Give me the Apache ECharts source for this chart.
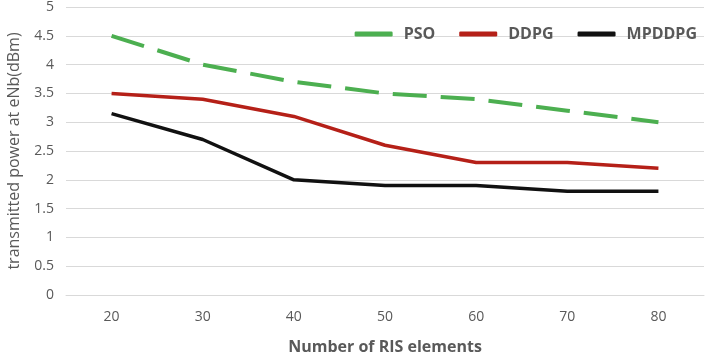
<!DOCTYPE html>
<html>
<head>
<meta charset="utf-8">
<script src="https://cdn.jsdelivr.net/npm/echarts@6/dist/echarts.min.js"></script>
<style>
  html, body { margin: 0; padding: 0; background: #fff; }
  #chart { width: 708px; height: 357px; }
</style>
</head>
<body>
<div id="chart"></div>
<script>
// RIS element counts on the x axis
const categories = ["20", "30", "40", "50", "60", "70", "80"];
// transmitted power per algorithm (dBm)
const psoValues = [4.5, 4.0, 3.7, 3.5, 3.4, 3.2, 3.0];
const ddpgValues = [3.5, 3.4, 3.1, 2.6, 2.3, 2.3, 2.2];
const mpddpgValues = [3.15, 2.7, 2.0, 1.9, 1.9, 1.8, 1.8];

const textColor = "#595959";
const font = "Open Sans";

const chart = echarts.init(document.getElementById("chart"));

chart.setOption({
  animation: false,
  grid: { left: 66, right: 4, top: 7, bottom: 62, outerBoundsMode: "none" },
  legend: {
    top: 21,
    right: 6,
    icon: "roundRect",
    itemWidth: 38,
    itemHeight: 5,
    itemGap: 24,
    textStyle: {
      color: textColor,
      fontFamily: font,
      fontWeight: "bold",
      fontSize: 16,
      padding: [0, 0, 0, 6],
    },
    data: ["PSO", "DDPG", "MPDDPG"],
  },
  xAxis: {
    type: "category",
    data: categories,
    boundaryGap: true,
    name: "Number of RIS elements",
    nameLocation: "middle",
    nameGap: 44,
    nameTextStyle: { color: textColor, fontFamily: font, fontWeight: "bold", fontSize: 16 },
    axisLine: { show: true, lineStyle: { color: "#d9d9d9" } },
    axisTick: { show: false },
    axisLabel: { color: textColor, fontFamily: font, fontSize: 14, margin: 15 },
  },
  yAxis: {
    type: "value",
    min: 0,
    max: 5,
    interval: 0.5,
    name: "transmitted power at eNb(dBm)",
    nameLocation: "middle",
    nameGap: 44,
    nameTextStyle: { color: textColor, fontFamily: font, fontSize: 16 },
    axisLine: { show: false },
    axisTick: { show: false },
    axisLabel: { color: textColor, fontFamily: font, fontSize: 14, margin: 12 },
    splitLine: { lineStyle: { color: "#d9d9d9", width: 1 } },
  },
  series: [
    {
      name: "PSO",
      type: "line",
      data: psoValues,
      symbol: "none",
      itemStyle: { color: "#4caf50" },
      lineStyle: { color: "#4caf50", width: 4, type: [34, 14] },
    },
    {
      name: "DDPG",
      type: "line",
      data: ddpgValues,
      symbol: "none",
      itemStyle: { color: "#b52018" },
      lineStyle: { color: "#b52018", width: 3.5 },
    },
    {
      name: "MPDDPG",
      type: "line",
      data: mpddpgValues,
      symbol: "none",
      itemStyle: { color: "#111111" },
      lineStyle: { color: "#111111", width: 3.5 },
    },
  ],
});
</script>
</body>
</html>
